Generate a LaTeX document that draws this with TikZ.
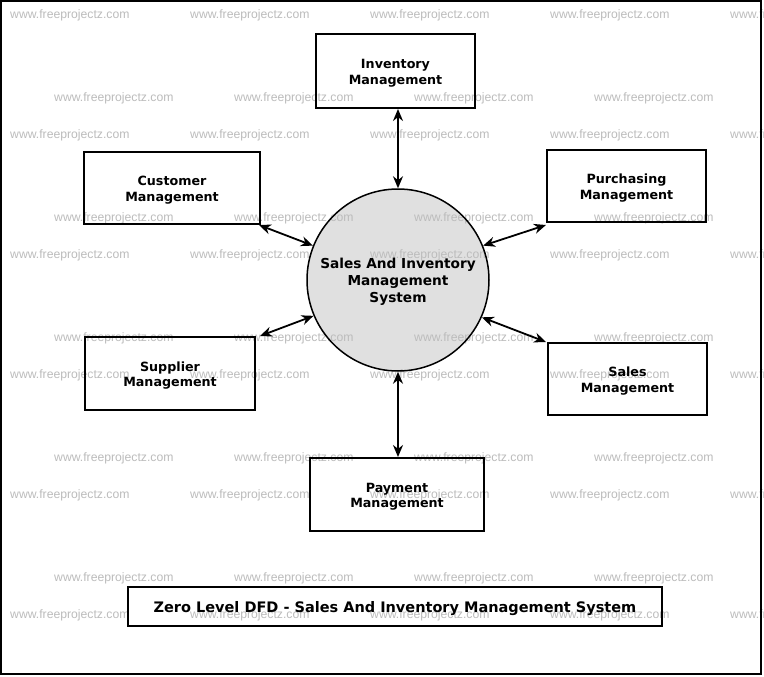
\documentclass[tikz,border=0pt]{standalone}
\usepackage{fontspec}
\setmainfont{DejaVu Sans}
\newfontfamily\wmfont{Liberation Sans}
\usetikzlibrary{arrows.meta}
\definecolor{wmgray}{RGB}{188,188,188}
\definecolor{circfill}{RGB}{224,224,224}
\tikzset{
  entity/.style={draw, line width=2pt, inner sep=0pt, align=center,
    text height=26.5pt, text depth=0pt,
    font=\fontsize{12.7}{15.5}\selectfont\bfseries},
  flow/.style={line width=1.8pt, {Stealth[length=12pt,width=10pt]}-{Stealth[length=12pt,width=10pt]}},
  wm/.style={anchor=west, inner sep=0pt, text=wmgray, font=\wmfont\fontsize{12.2}{14}\selectfont}
}
\begin{document}
\begin{tikzpicture}[x=1pt,y=-1pt]
\useasboundingbox (0,0) rectangle (764,677);
\fill[white] (0,0) rectangle (764,677);
% circle fill
\fill[circfill] (398,280) circle (91);
% watermarks
\begin{scope}
\clip (0,0) rectangle (764,677);
\foreach \y in {15,135,255,375,495,615}{
  \foreach \x in {10,190,370,550,730}{
    \node[wm] (wma\x-\y) at (\x,\y+0.7) {www.freeprojectz.com};
  }
}
\foreach \y in {98,218,338,458,578}{
  \foreach \x in {54,234,414,594}{
    \node[wm] (wmb\x-\y) at (\x,\y+0.7) {www.freeprojectz.com};
  }
}
\end{scope}
% outer frame
\draw[line width=2pt] (1,1) rectangle (761,674);
% nodes
\node[circle, draw, line width=1.5pt, minimum size=182pt, inner sep=0pt, align=center,
  text height=44.8pt, text depth=0pt,
  font=\fontsize{13.7}{17}\selectfont\bfseries] (sys) at (398,280)
  {Sales And Inventory\\Management\\System};
\node[entity, minimum width=159pt, minimum height=74pt] (inv) at (395.5,71) {Inventory\\Management};
\node[entity, minimum width=176pt, minimum height=72pt] (cust) at (172,188) {Customer\\Management};
\node[entity, minimum width=159pt, minimum height=72pt] (purch) at (626.5,186) {Purchasing\\Management};
\node[entity, minimum width=170pt, minimum height=73pt] (supp) at (170,373.5) {Supplier\\Management};
\node[entity, minimum width=159pt, minimum height=72pt] (sales) at (627.5,379) {Sales\\Management};
\node[entity, minimum width=174pt, minimum height=73pt] (pay) at (397,494.5) {Payment\\Management};
\node[draw, line width=2pt, minimum width=534pt, minimum height=39pt, inner sep=0pt,
  text height=12.6pt, text depth=0pt,
  font=\fontsize{14.5}{17}\selectfont\bfseries] (title) at (395,606.5)
  {Zero Level DFD - Sales And Inventory Management System};
% flows
\draw[flow] (inv.south -| sys.north) -- (sys.north);
\draw[flow] ([xshift=-2pt]cust.south east) -- (sys.158);
\draw[flow] ([xshift=4pt]supp.north east) -- (sys.203);
\draw[flow] ([yshift=-2pt]purch.south west) -- (sys.22);
\draw[flow] ([xshift=-1pt]sales.north west) -- (sys.336);
\draw[flow, line width=2.5pt] (sys.south) -- (pay.north -| sys.south);
\end{tikzpicture}
\end{document}
